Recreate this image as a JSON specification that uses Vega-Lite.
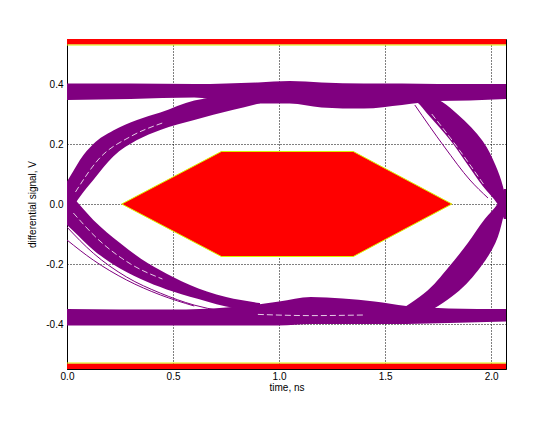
{
  "$schema": "https://vega.github.io/schema/vega-lite/v6.json",
  "width": 439,
  "height": 330,
  "autosize": {"type": "none"},
  "padding": {"left": 67, "top": 39, "right": 54, "bottom": 52},
  "background": "white",
  "config": {
    "view": {"stroke": "black", "strokeWidth": 1},
    "axis": {
      "labelFont": "Liberation Sans",
      "titleFont": "Liberation Sans",
      "labelFontSize": 10,
      "titleFontSize": 10,
      "titleFontWeight": "normal",
      "labelColor": "black",
      "titleColor": "black",
      "ticks": false,
      "grid": true,
      "gridColor": "black",
      "gridDash": [1, 2],
      "gridOpacity": 1,
      "gridWidth": 1,
      "domainColor": "black",
      "labelFlush": false
    }
  },
  "datasets": {
    "flat": [
      {"g": "toprail", "t": 0.0, "lo": 0.347, "hi": 0.402},
      {"g": "toprail", "t": 0.3, "lo": 0.35, "hi": 0.402},
      {"g": "toprail", "t": 0.6, "lo": 0.355, "hi": 0.4},
      {"g": "toprail", "t": 0.75, "lo": 0.34, "hi": 0.402},
      {"g": "toprail", "t": 0.9, "lo": 0.335, "hi": 0.405},
      {"g": "toprail", "t": 1.05, "lo": 0.335, "hi": 0.41},
      {"g": "toprail", "t": 1.2, "lo": 0.322, "hi": 0.405},
      {"g": "toprail", "t": 1.4, "lo": 0.318, "hi": 0.402},
      {"g": "toprail", "t": 1.58, "lo": 0.33, "hi": 0.402},
      {"g": "toprail", "t": 1.75, "lo": 0.343, "hi": 0.4},
      {"g": "toprail", "t": 1.9, "lo": 0.345, "hi": 0.4},
      {"g": "toprail", "t": 2.07, "lo": 0.35, "hi": 0.4},
      {"g": "botrail", "t": 0.0, "lo": -0.405, "hi": -0.35},
      {"g": "botrail", "t": 0.5, "lo": -0.405, "hi": -0.352},
      {"g": "botrail", "t": 0.75, "lo": -0.405, "hi": -0.345},
      {"g": "botrail", "t": 0.9, "lo": -0.405, "hi": -0.335},
      {"g": "botrail", "t": 1.0, "lo": -0.405, "hi": -0.325},
      {"g": "botrail", "t": 1.15, "lo": -0.4, "hi": -0.31},
      {"g": "botrail", "t": 1.3, "lo": -0.4, "hi": -0.315},
      {"g": "botrail", "t": 1.45, "lo": -0.4, "hi": -0.325},
      {"g": "botrail", "t": 1.6, "lo": -0.4, "hi": -0.34},
      {"g": "botrail", "t": 1.8, "lo": -0.397, "hi": -0.348},
      {"g": "botrail", "t": 2.07, "lo": -0.392, "hi": -0.35},
      {"g": "leftrise", "t": 0.0, "lo": -0.06, "hi": 0.075},
      {"g": "leftrise", "t": 0.03, "lo": -0.01, "hi": 0.11},
      {"g": "leftrise", "t": 0.061, "lo": 0.024, "hi": 0.147},
      {"g": "leftrise", "t": 0.124, "lo": 0.08, "hi": 0.2},
      {"g": "leftrise", "t": 0.218, "lo": 0.158, "hi": 0.245},
      {"g": "leftrise", "t": 0.33, "lo": 0.213, "hi": 0.28},
      {"g": "leftrise", "t": 0.44, "lo": 0.247, "hi": 0.305},
      {"g": "leftrise", "t": 0.6, "lo": 0.28, "hi": 0.345},
      {"g": "leftrise", "t": 0.78, "lo": 0.313, "hi": 0.36},
      {"g": "leftrise", "t": 0.91, "lo": 0.336, "hi": 0.37},
      {"g": "leftfall", "t": 0.0, "lo": -0.07, "hi": 0.04},
      {"g": "leftfall", "t": 0.03, "lo": -0.09, "hi": 0.02},
      {"g": "leftfall", "t": 0.124, "lo": -0.153, "hi": -0.053},
      {"g": "leftfall", "t": 0.25, "lo": -0.215, "hi": -0.13},
      {"g": "leftfall", "t": 0.38, "lo": -0.26, "hi": -0.197},
      {"g": "leftfall", "t": 0.5, "lo": -0.292, "hi": -0.243},
      {"g": "leftfall", "t": 0.66, "lo": -0.325, "hi": -0.292},
      {"g": "leftfall", "t": 0.75, "lo": -0.342, "hi": -0.31},
      {"g": "leftfall", "t": 0.91, "lo": -0.355, "hi": -0.33}
    ],
    "steep": [
      {"g": "rightfall", "v": 0.375, "tlo": 1.58, "thi": 1.68},
      {"g": "rightfall", "v": 0.34, "tlo": 1.65, "thi": 1.77},
      {"g": "rightfall", "v": 0.3, "tlo": 1.7, "thi": 1.84},
      {"g": "rightfall", "v": 0.21, "tlo": 1.81, "thi": 1.96},
      {"g": "rightfall", "v": 0.13, "tlo": 1.89, "thi": 2.02},
      {"g": "rightfall", "v": 0.06, "tlo": 1.96, "thi": 2.055},
      {"g": "rightfall", "v": 0.0, "tlo": 2.03, "thi": 2.07},
      {"g": "rightfall", "v": -0.05, "tlo": 2.06, "thi": 2.07},
      {"g": "rightrise", "v": -0.375, "tlo": 1.52, "thi": 1.66},
      {"g": "rightrise", "v": -0.34, "tlo": 1.6, "thi": 1.75},
      {"g": "rightrise", "v": -0.3, "tlo": 1.68, "thi": 1.83},
      {"g": "rightrise", "v": -0.21, "tlo": 1.8, "thi": 1.95},
      {"g": "rightrise", "v": -0.13, "tlo": 1.89, "thi": 2.02},
      {"g": "rightrise", "v": -0.05, "tlo": 1.97, "thi": 2.055},
      {"g": "rightrise", "v": 0.0, "tlo": 2.03, "thi": 2.07},
      {"g": "rightrise", "v": 0.05, "tlo": 2.06, "thi": 2.07}
    ],
    "strays": [
      {"g": "s1", "t": 0.0, "v": -0.077},
      {"g": "s1", "t": 0.124, "v": -0.164},
      {"g": "s1", "t": 0.28, "v": -0.243},
      {"g": "s1", "t": 0.44, "v": -0.297},
      {"g": "s1", "t": 0.6, "v": -0.337},
      {"g": "s1", "t": 0.85, "v": -0.367},
      {"g": "s2", "t": 0.0, "v": -0.12},
      {"g": "s2", "t": 0.124, "v": -0.187},
      {"g": "s2", "t": 0.28, "v": -0.253},
      {"g": "s2", "t": 0.44, "v": -0.303},
      {"g": "s2", "t": 0.6, "v": -0.34},
      {"g": "s3", "t": 1.64, "v": 0.33},
      {"g": "s3", "t": 1.78, "v": 0.19},
      {"g": "s3", "t": 1.9, "v": 0.08},
      {"g": "s3", "t": 1.985, "v": 0.02}
    ],
    "streaks": [
      {"g": "w1", "t": 0.04, "v": 0.04},
      {"g": "w1", "t": 0.15, "v": 0.15},
      {"g": "w1", "t": 0.3, "v": 0.225},
      {"g": "w1", "t": 0.45, "v": 0.27},
      {"g": "w2", "t": 0.03, "v": -0.03},
      {"g": "w2", "t": 0.15, "v": -0.12},
      {"g": "w2", "t": 0.3, "v": -0.2},
      {"g": "w2", "t": 0.45, "v": -0.25},
      {"g": "w3", "t": 0.9, "v": -0.368},
      {"g": "w3", "t": 1.15, "v": -0.372},
      {"g": "w3", "t": 1.4, "v": -0.37},
      {"g": "w4", "t": 1.72, "v": 0.3},
      {"g": "w4", "t": 1.85, "v": 0.18},
      {"g": "w4", "t": 1.97, "v": 0.06}
    ],
    "mask": [
      {"t": 0.258, "lo": 0.0, "hi": 0.0},
      {"t": 0.728, "lo": -0.175, "hi": 0.175},
      {"t": 1.35, "lo": -0.175, "hi": 0.175},
      {"t": 1.815, "lo": 0.0, "hi": 0.0}
    ],
    "maskEdge": [
      {"g": "up", "t": 0.258, "v": 0.0},
      {"g": "up", "t": 0.728, "v": 0.175},
      {"g": "up", "t": 1.35, "v": 0.175},
      {"g": "up", "t": 1.815, "v": 0.0},
      {"g": "dn", "t": 0.258, "v": 0.0},
      {"g": "dn", "t": 0.728, "v": -0.175},
      {"g": "dn", "t": 1.35, "v": -0.175},
      {"g": "dn", "t": 1.815, "v": 0.0}
    ],
    "bands": [
      {"t1": 0.0, "t2": 2.07, "v1": 0.532, "v2": 0.55},
      {"t1": 0.0, "t2": 2.07, "v1": -0.55, "v2": -0.532}
    ],
    "bandEdges": [
      {"v": 0.53},
      {"v": -0.53}
    ]
  },
  "layer": [
    {
      "data": {"name": "flat"},
      "mark": {"type": "area", "color": "#800080", "clip": true, "interpolate": "monotone"},
      "encoding": {
        "x": {"field": "t", "type": "quantitative",
              "scale": {"domain": [0, 2.07], "nice": false, "zero": false},
              "axis": {"values": [0, 0.5, 1, 1.5, 2], "format": ".1f", "title": "time, ns", "labelPadding": 2, "titlePadding": 1}},
        "y": {"field": "lo", "type": "quantitative",
              "scale": {"domain": [-0.55, 0.55], "nice": false, "zero": false},
              "axis": {"values": [-0.4, -0.2, 0, 0.2, 0.4], "format": ".1f", "title": "differential signal, V", "labelPadding": 4, "titlePadding": 8,
                       "labelExpr": "replace(datum.label, '\u2212', '-')"}},
        "y2": {"field": "hi"},
        "detail": {"field": "g"}
      }
    },
    {
      "data": {"name": "steep"},
      "mark": {"type": "area", "orient": "horizontal", "color": "#800080", "clip": true, "interpolate": "monotone"},
      "encoding": {
        "y": {"field": "v", "type": "quantitative"},
        "x": {"field": "tlo", "type": "quantitative"},
        "x2": {"field": "thi"},
        "detail": {"field": "g"}
      }
    },
    {
      "data": {"name": "streaks"},
      "mark": {"type": "line", "color": "white", "strokeWidth": 1, "strokeDash": [6, 3], "opacity": 0.8, "clip": true, "interpolate": "monotone"},
      "encoding": {
        "x": {"field": "t", "type": "quantitative"},
        "y": {"field": "v", "type": "quantitative"},
        "detail": {"field": "g"}
      }
    },
    {
      "data": {"name": "strays"},
      "mark": {"type": "line", "color": "#800080", "strokeWidth": 1, "clip": true, "interpolate": "monotone"},
      "encoding": {
        "x": {"field": "t", "type": "quantitative"},
        "y": {"field": "v", "type": "quantitative"},
        "detail": {"field": "g"}
      }
    },
    {
      "data": {"name": "mask"},
      "mark": {"type": "area", "color": "#ff0000"},
      "encoding": {
        "x": {"field": "t", "type": "quantitative"},
        "y": {"field": "lo", "type": "quantitative"},
        "y2": {"field": "hi"}
      }
    },
    {
      "data": {"name": "maskEdge"},
      "mark": {"type": "line", "color": "#d8f000", "strokeWidth": 1},
      "encoding": {
        "x": {"field": "t", "type": "quantitative"},
        "y": {"field": "v", "type": "quantitative"},
        "detail": {"field": "g"}
      }
    },
    {
      "data": {"name": "bands"},
      "mark": {"type": "rect", "color": "#ff0000"},
      "encoding": {
        "x": {"field": "t1", "type": "quantitative"},
        "x2": {"field": "t2"},
        "y": {"field": "v1", "type": "quantitative"},
        "y2": {"field": "v2"}
      }
    },
    {
      "data": {"name": "bandEdges"},
      "mark": {"type": "rule", "color": "#d8f000", "strokeWidth": 1},
      "encoding": {
        "y": {"field": "v", "type": "quantitative"}
      }
    }
  ]
}
